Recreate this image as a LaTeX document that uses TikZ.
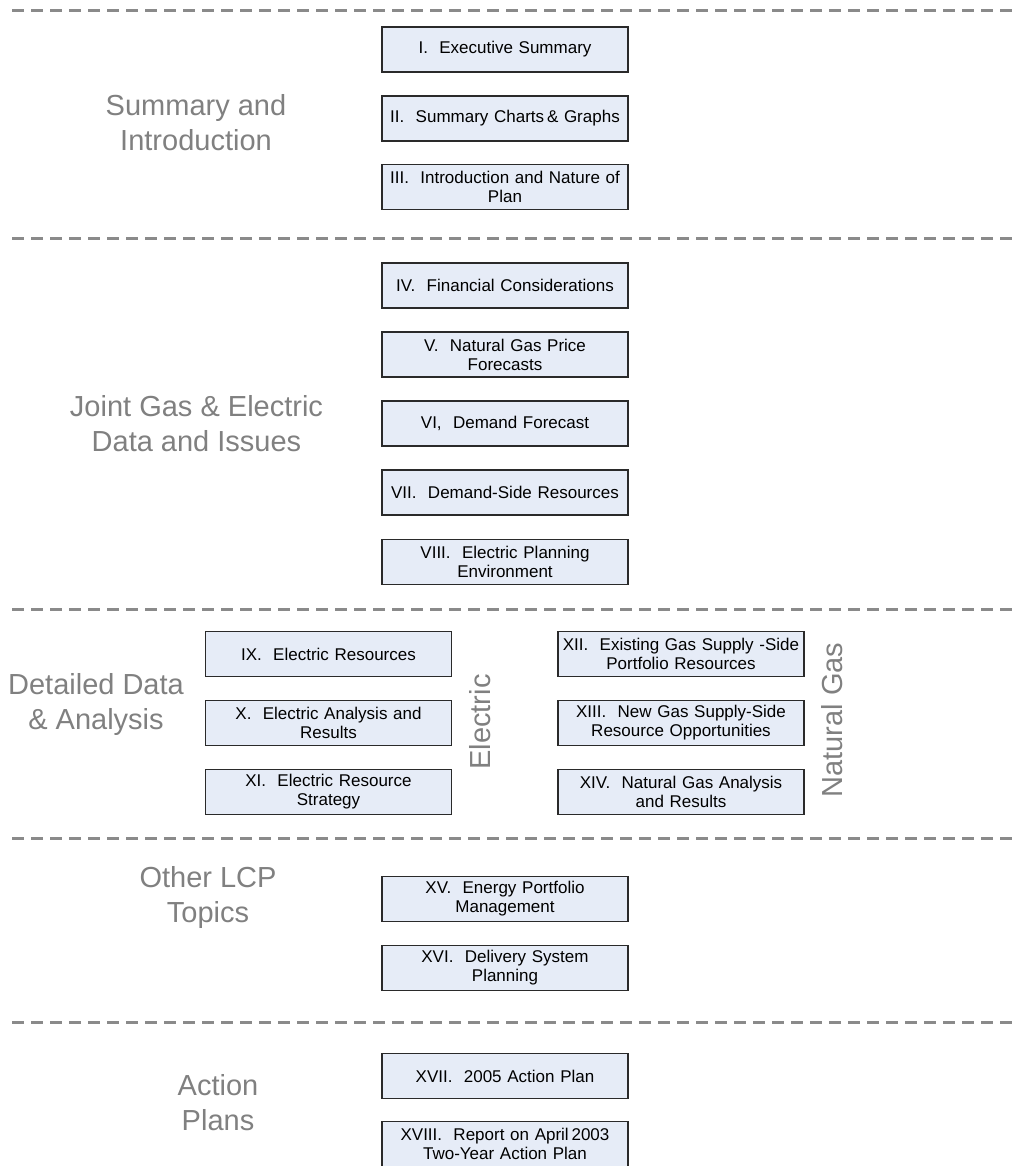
\documentclass[tikz,border=0pt]{standalone}
\usepackage{fontspec}
\setmainfont{Liberation Sans}
\definecolor{boxfill}{HTML}{E6ECF7}
\definecolor{boxline}{HTML}{2A2A2A}
\definecolor{labelgray}{HTML}{808080}
\definecolor{sepgray}{HTML}{8A8A8A}
\tikzset{
  secbox/.style={draw=boxline, line width=1.2pt, fill=boxfill, minimum width=246pt, minimum height=45pt,
    text width=240pt, align=center, inner sep=0pt, font=\fontsize{17}{19}\selectfont},
  sidelabel/.style={text=labelgray, align=center, inner sep=0pt, font=\fontsize{29}{35}\selectfont},
  sepline/.style={draw=sepgray, line width=3pt, dash pattern=on 12pt off 7pt}
}
\begin{document}
\begin{tikzpicture}[x=1pt,y=-1pt]
\useasboundingbox (0,0) rectangle (1012,1166);
\clip (0,0) rectangle (1012,1166);
% separators
\foreach \yy in {11,239,609,838,1022}{
  \draw[sepline] (12,\yy) -- (1012,\yy);
}
% section 1
\node[secbox] (s1) at (505,49.5) {I.\ \ Executive Summary};
\node[secbox] (s2) at (505,118.5) {II.\ \ Summary Charts\,\& Graphs};
\node[secbox] (s3) at (505,187) {III.\ \ Introduction and Nature of\\Plan};
\node[sidelabel] (l1) at (196,123) {Summary and\\Introduction};
% section 2
\node[secbox] (s4) at (505,285.5) {IV.\ \ Financial Considerations};
\node[secbox] (s5) at (505,354.5) {V.\ \ Natural Gas Price\\Forecasts};
\node[secbox] (s6) at (505,423.5) {VI,\ \ Demand Forecast};
\node[secbox] (s7) at (505,492.5) {VII.\ \ Demand-Side Resources};
\node[secbox] (s8) at (505,562) {VIII.\ \ Electric Planning\\Environment};
\node[sidelabel] (l2) at (196.5,424) {Joint Gas \& Electric\\Data and Issues};
% section 3
\node[secbox] (s9) at (328.5,654) {IX.\ \ Electric Resources};
\node[secbox] (s10) at (328.5,723) {X.\ \ Electric Analysis and\\Results};
\node[secbox] (s11) at (328.5,792) {XI.\ \ Electric Resource\\Strategy};
\node[secbox] (s12) at (681,654) {XII.\ \ Existing Gas Supply -Side\\Portfolio Resources};
\node[secbox] (s13) at (681,723) {XIII.\ \ New Gas Supply-Side\\Resource Opportunities};
\node[secbox] (s14) at (681,792) {XIV.\ \ Natural Gas Analysis\\and Results};
\node[sidelabel] (l3) at (96,704) {Detailed Data\\\& Analysis};
\node[sidelabel, rotate=90] (el) at (480,722) {Electric};
\node[sidelabel, rotate=90] (ng) at (832,720) {Natural Gas};
% section 4
\node[secbox] (s15) at (505,899) {XV.\ \ Energy Portfolio\\Management};
\node[secbox] (s16) at (505,968) {XVI.\ \ Delivery System\\Planning};
\node[sidelabel] (l4) at (208,897) {Other LCP\\Topics};
% section 5
\node[secbox] (s17) at (505,1076) {XVII.\ \ 2005 Action Plan};
\node[secbox] (s18) at (505,1144) {XVIII.\ \ Report on April\,2003\\Two-Year Action Plan};
\node[sidelabel] (l5) at (218,1103) {Action\\Plans};
\end{tikzpicture}
\end{document}
